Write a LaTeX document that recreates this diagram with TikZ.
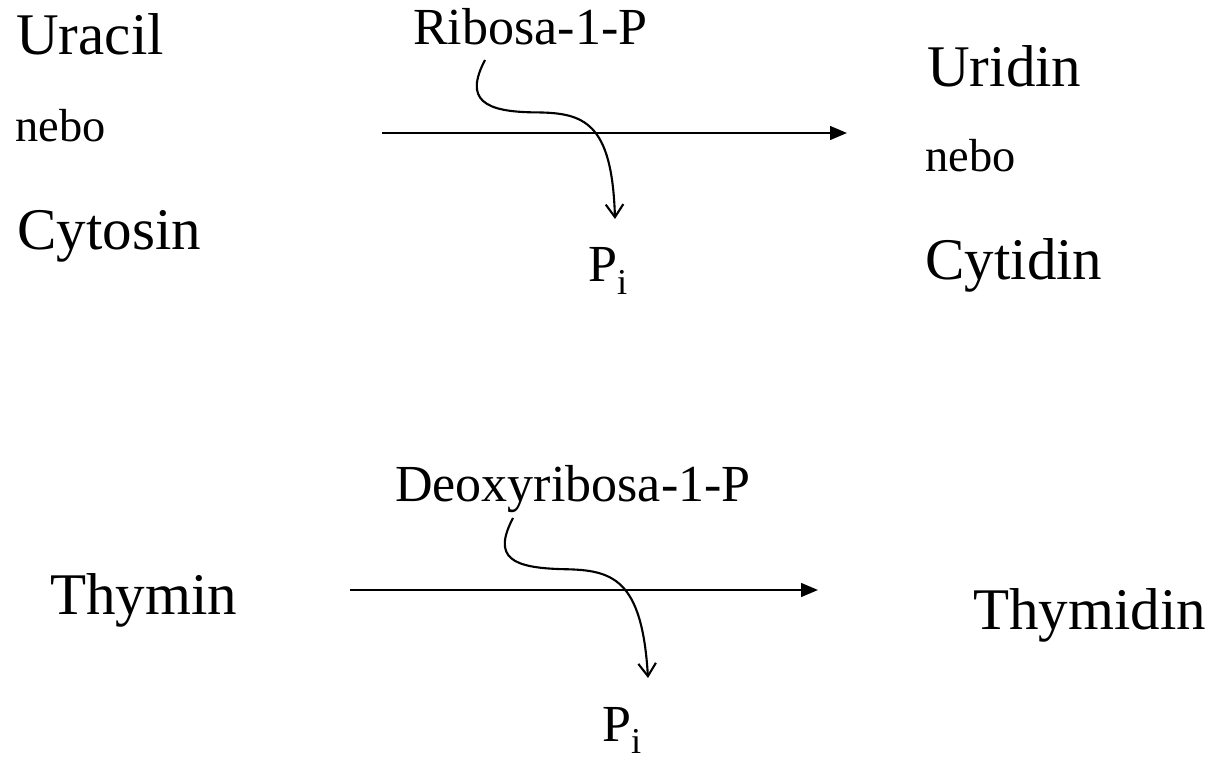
\documentclass[tikz,border=0pt]{standalone}
\usepackage{fontspec}
\setmainfont{Liberation Serif}
\usepackage{tikz}
\usetikzlibrary{positioning,arrows.meta}
\tikzset{
  big/.style={font=\fontsize{42}{48}\selectfont,anchor=base west,inner sep=0pt},
  mid/.style={font=\fontsize{37}{42}\selectfont,anchor=base west,inner sep=0pt},
  small/.style={font=\fontsize{33}{38}\selectfont,anchor=base west,inner sep=0pt},
  main/.style={line width=1.5pt,-{Triangle[length=4.2mm,width=3.4mm]}},
  side/.style={line width=1.5pt,-{Straight Barb[length=3.2mm,width=4.4mm]}}
}

\begin{document}
\begin{tikzpicture}
 \useasboundingbox (0,0) rectangle (30.2,19.05);
 % ---- ribose: uracil / cytosine ----
 \node[big]   (ura)  at (0.40,17.675) {Uracil};
 \node[small] (orL)  at (0.375,15.5) {nebo};
 \node[big]   (cyt)  at (0.425,12.8) {Cytosin};
 \node[mid]   (rib)  at (10.325,17.925) {Ribosa-1-P};
 \node[mid]   (pi1)  at (14.7,12.0) {P\textsubscript{i}};
 \node[big]   (urd)  at (23.175,16.875) {Uridin};
 \node[small] (orR)  at (23.125,14.75) {nebo};
 \node[big]   (cyd)  at (23.125,12.05) {Cytidin};
 \coordinate (r1a) at (9.55,15.725);
 \coordinate (r1b) at (21.175,15.725);
 \draw[main] (r1a) -- (r1b);
 \coordinate (s1a) at (12.125,17.55);
 \coordinate (s1b) at (15.375,13.575);
 \draw[side] (s1a) .. controls (11.6,16.55) and (12.1,16.25) .. (13.4,16.24)
                   .. controls (14.6,16.23) and (15.3,16.0) .. (s1b);
 % ---- deoxyribose: thymine ----
 \node[mid]   (dri)  at (9.875,6.5) {Deoxyribosa-1-P};
 \node[big]   (thy)  at (1.25,3.675) {Thymin};
 \node[big]   (thd)  at (24.325,3.3) {Thymidin};
 \node[mid]   (pi2)  at (15.05,0.52) {P\textsubscript{i}};
 \coordinate (r2a) at (8.75,4.3);
 \coordinate (r2b) at (20.45,4.3);
 \draw[main] (r2a) -- (r2b);
 \coordinate (s2a) at (12.825,6.1);
 \coordinate (s2b) at (16.2,2.1);
 \draw[side] (s2a) .. controls (12.3,5.1) and (12.8,4.85) .. (14.1,4.82)
                   .. controls (15.3,4.8) and (16.05,4.6) .. (s2b);
\end{tikzpicture}
\end{document}
